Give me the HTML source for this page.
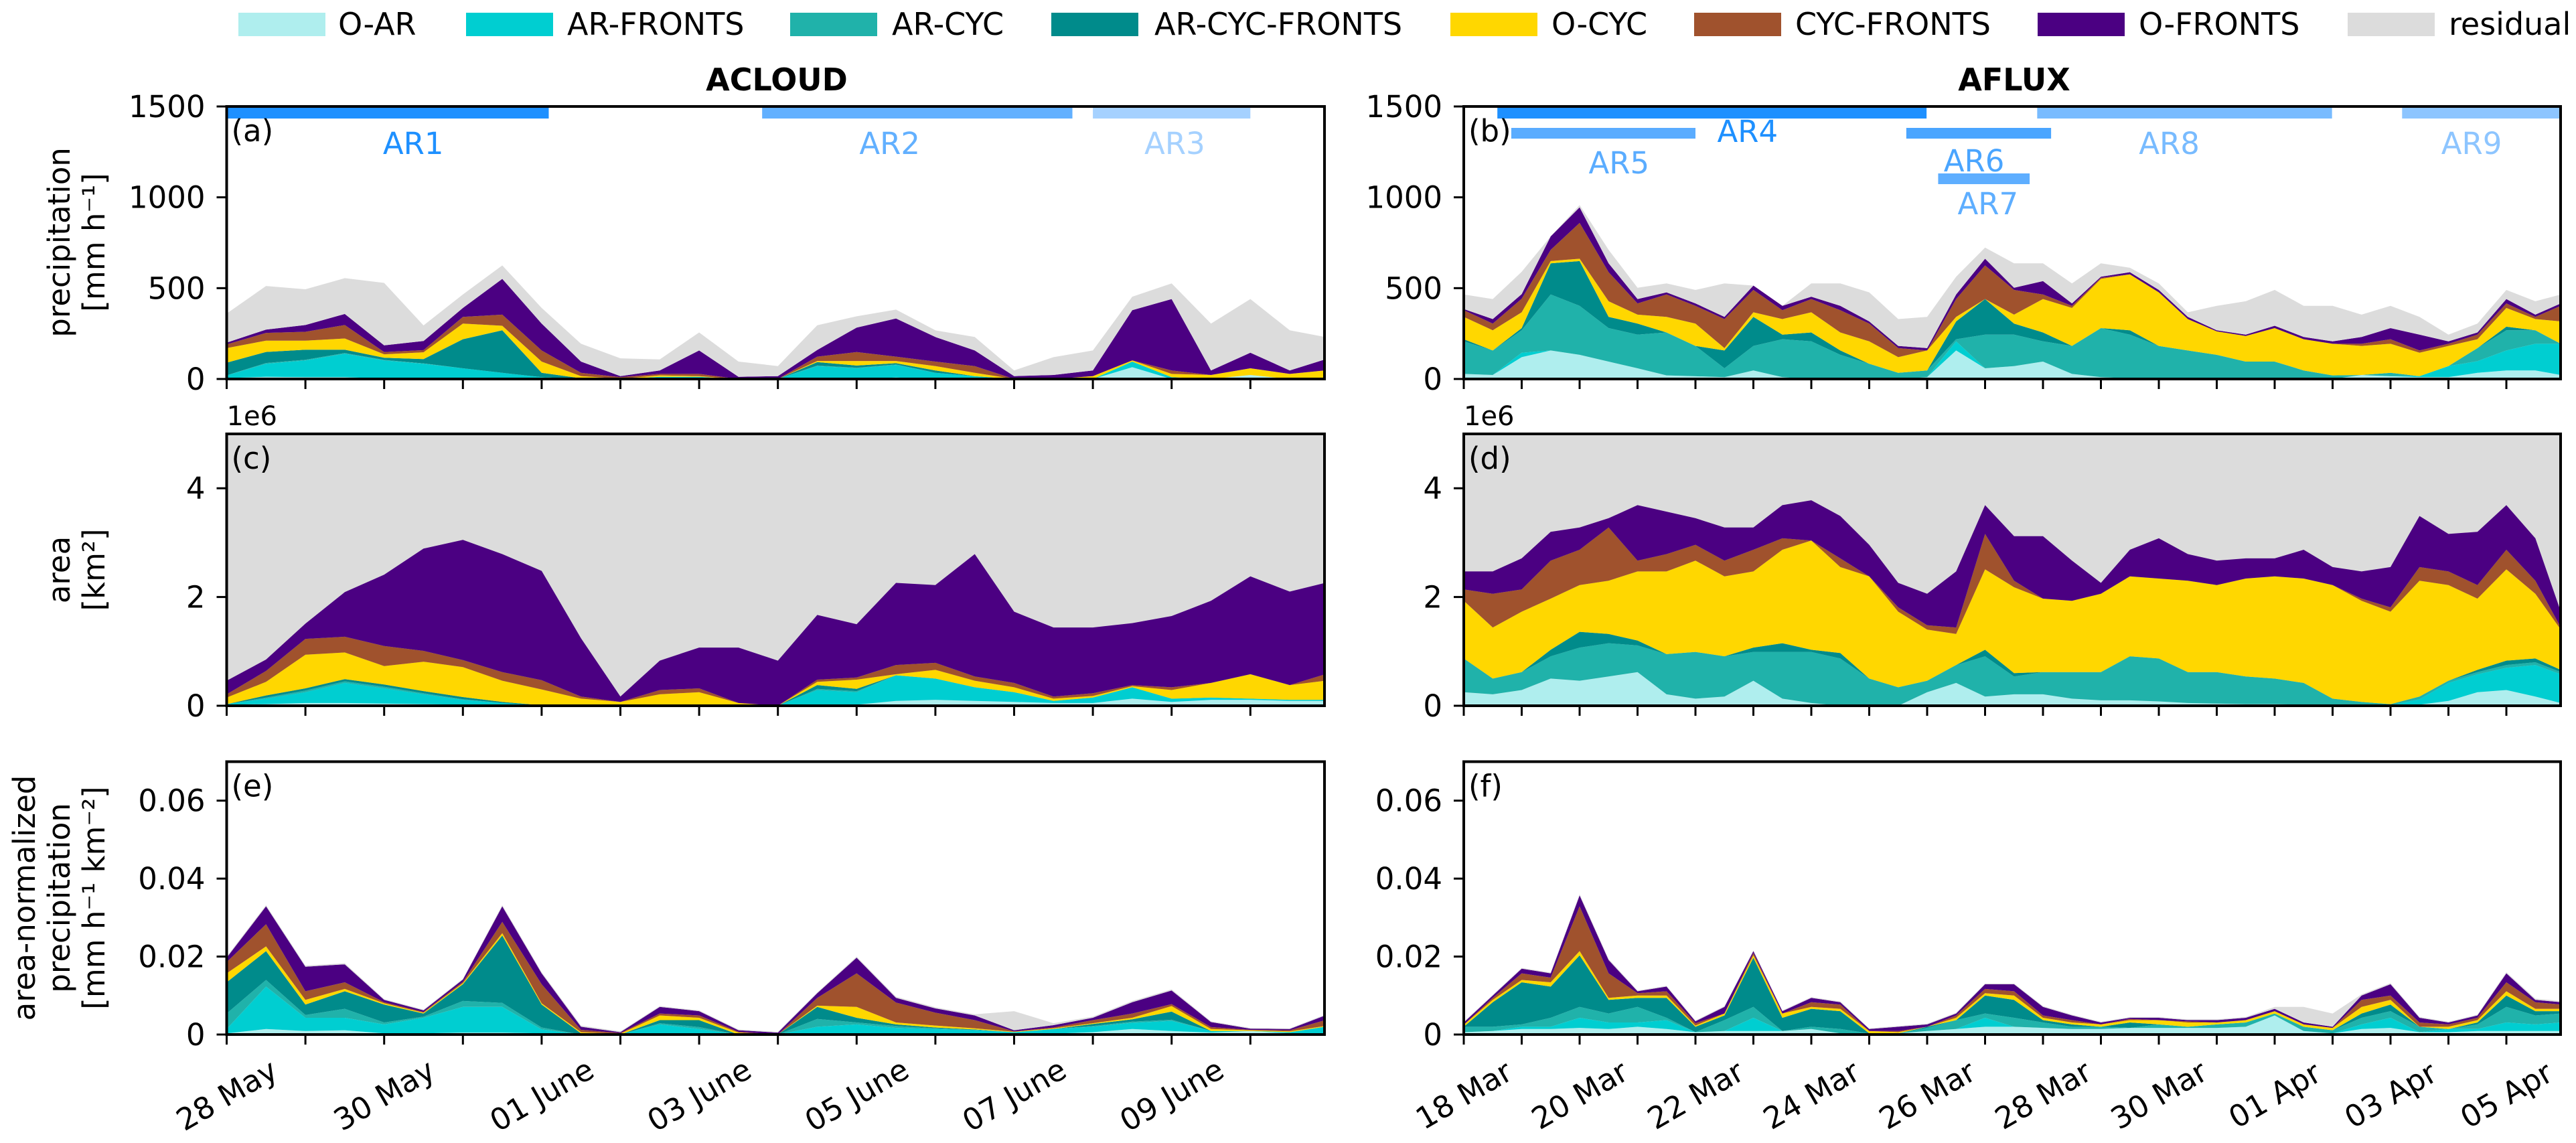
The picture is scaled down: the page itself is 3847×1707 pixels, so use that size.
<!DOCTYPE html>
<html><head><meta charset="utf-8"><style>
html,body{margin:0;padding:0;background:#fff;}
svg{display:block;font-family:"DejaVu Sans","Liberation Sans",sans-serif;}
</style></head><body>
<svg id="chart" width="3847" height="1707" viewBox="0 0 3847 1707" xmlns="http://www.w3.org/2000/svg">
<rect x="0" y="0" width="3847" height="1707" fill="#fff"/>
<g id="legend" font-size="46">
 <g><rect x="356" y="19" width="130" height="35" fill="#afeeee"/><text x="505" y="52">O-AR</text></g>
 <g><rect x="696" y="19" width="130" height="35" fill="#00ced1"/><text x="847" y="52">AR-FRONTS</text></g>
 <g><rect x="1180" y="19" width="130" height="35" fill="#20b2aa"/><text x="1332" y="52">AR-CYC</text></g>
 <g><rect x="1570" y="19" width="130" height="35" fill="#008b8b"/><text x="1724" y="52">AR-CYC-FRONTS</text></g>
 <g><rect x="2166" y="19" width="130" height="35" fill="#ffd700"/><text x="2317" y="52">O-CYC</text></g>
 <g><rect x="2530" y="19" width="130" height="35" fill="#a0522d"/><text x="2681" y="52">CYC-FRONTS</text></g>
 <g><rect x="3043" y="19" width="130" height="35" fill="#4b0082"/><text x="3194" y="52">O-FRONTS</text></g>
 <g><rect x="3506" y="19" width="130" height="35" fill="#dcdcdc"/><text x="3657" y="52">residual</text></g>
</g>
<text x="1160" y="135" font-size="46" font-weight="bold" text-anchor="middle">ACLOUD</text>
<text x="3008" y="135" font-size="46" font-weight="bold" text-anchor="middle">AFLUX</text>
<g font-size="45" text-anchor="middle">
 <text transform="translate(88,362) rotate(-90)" dy="16">precipitation</text>
 <text transform="translate(140,362) rotate(-90)" dy="16">[mm h⁻¹]</text>
 <text transform="translate(88,851) rotate(-90)" dy="16">area</text>
 <text transform="translate(140,851) rotate(-90)" dy="16">[km²]</text>
 <text transform="translate(36,1341) rotate(-90)" dy="16">area-normalized</text>
 <text transform="translate(88,1341) rotate(-90)" dy="16">precipitation</text>
 <text transform="translate(140,1341) rotate(-90)" dy="16">[mm h⁻¹ km⁻²]</text>
</g>
<g id="plots"></g>
</svg>
<script>
// ---- shared categories ----
const layerNames = ['O-AR','AR-FRONTS','AR-CYC','AR-CYC-FRONTS','O-CYC','CYC-FRONTS','O-FRONTS','residual'];
const layerColors = ['#afeeee','#00ced1','#20b2aa','#008b8b','#ffd700','#a0522d','#4b0082','#dcdcdc'];
const leftTimes = [0,0.5,1,1.5,2,2.5,3,3.5,4,4.5,5,5.5,6,6.5,7,7.5,8,8.5,9,9.5,10,10.5,11,11.5,12,12.5,13,13.5,13.95];
const rightTimes = [0,0.5,1,1.5,2,2.5,3,3.5,4,4.5,5,5.5,6,6.5,7,7.5,8,8.5,9,9.5,10,10.5,11,11.5,12,12.5,13,13.5,14,14.5,15,15.5,16,16.5,17,17.5,18,18.5,18.94];
const leftDateLabels = ['28 May','30 May','01 June','03 June','05 June','07 June','09 June'];
const leftDateDays = [0,2,4,6,8,10,12];
const rightDateLabels = ['18 Mar','20 Mar','22 Mar','24 Mar','26 Mar','28 Mar','30 Mar','01 Apr','03 Apr','05 Apr'];
const rightDateDays = [0,2,4,6,8,10,12,14,16,18];
const precipTicks = [0,500,1000,1500];
const precipTickLabels = ['0','500','1000','1500'];
const areaTicks = [0,2,4];
const areaTickLabels = ['0','2','4'];
const normTicks = [0,20,40,60];
const normTickLabels = ['0','0.02','0.04','0.06'];

// ---- panel (a) ACLOUD precipitation [mm/h] ----
const aOAR = [5,12,10,10,3,0,0,0,0,0,0,0,0,0,0,0,0,8,0,0,0,0,0,65,0,0,22,0,0];
const aARF = [15,72,92,129,99,84,59,34,10,0,0,12,12,0,0,71,59,69,34,16,0,0,0,31,10,0,0,0,0];
const aARC = [0,4,4,4,3,2,0,0,0,0,0,0,0,0,0,3,3,3,0,0,0,0,0,0,0,0,0,0,0];
const aACF = [70,61,55,18,12,24,160,234,24,4,0,0,0,0,0,19,12,7,13,0,0,0,0,0,0,0,0,0,0];
const aOC  = [80,62,50,62,19,37,86,25,62,12,2,8,4,0,0,6,25,12,24,18,0,0,16,6,18,22,37,28,47];
const aCF  = [20,43,49,74,12,12,37,61,61,18,8,8,12,0,0,24,49,24,25,37,0,0,0,0,19,0,0,0,0];
const aOF  = [10,18,37,61,37,50,49,197,148,62,6,19,129,12,16,37,135,210,135,86,16,22,31,277,393,25,86,19,61];
const aRES = [160,240,197,197,344,86,74,74,86,98,98,61,99,84,55,136,62,49,37,74,31,98,110,74,86,258,295,221,123];
// ---- panel (c) ACLOUD area [1e6 km2] ----
const cOAR = [0.02,0.03,0.05,0.05,0.04,0.03,0.02,0.01,0,0,0,0,0,0,0,0.01,0.02,0.09,0.11,0.09,0.07,0.05,0.05,0.13,0.07,0.11,0.11,0.09,0.09];
const cARF = [0.01,0.1,0.2,0.37,0.28,0.18,0.09,0.04,0.01,0,0,0,0.02,0,0,0.28,0.23,0.47,0.39,0.25,0.18,0.04,0.1,0.21,0.06,0.04,0.02,0.02,0.02];
const cARC = [0,0.02,0.03,0.03,0.03,0.02,0.01,0,0,0,0,0,0,0,0,0.02,0.02,0,0,0,0,0,0,0,0,0,0,0,0];
const cACF = [0,0.04,0.04,0.04,0.04,0.04,0.04,0.02,0,0,0,0,0,0,0,0.07,0.04,0,0,0,0,0,0,0,0,0,0,0,0];
const cOC  = [0.12,0.25,0.62,0.49,0.34,0.54,0.55,0.39,0.29,0.13,0.07,0.21,0.23,0.05,0,0.06,0.17,0.02,0.16,0.12,0.09,0.04,0.03,0.02,0.16,0.27,0.45,0.27,0.35];
const cCF  = [0.06,0.2,0.29,0.29,0.37,0.2,0.13,0.16,0.17,0.04,0,0.08,0.07,0,0,0.04,0.04,0.17,0.13,0.08,0.08,0.04,0.05,0.02,0.05,0,0,0,0.12];
const cOF  = [0.25,0.21,0.28,0.82,1.31,1.88,2.21,2.17,2.01,1.07,0.1,0.54,0.75,1.02,0.83,1.19,0.98,1.51,1.43,2.25,1.31,1.27,1.21,1.14,1.31,1.51,1.8,1.72,1.68];
// ---- panel (e) ACLOUD area-normalized [1e-3 mm/h/km2] ----
const eOAR = [0.3,1.4,0.9,1.1,0.3,0.3,0.5,0.5,0.3,0,0,0.2,0.3,0,0,0.3,0.3,0.3,0.2,0.2,0.2,0.2,0.6,1.4,0.9,0.5,0.9,0.3,0.3];
const eARF = [1.1,10.9,3.4,3.2,2.3,4,6.6,6.6,1,0,0,2.4,1.1,0,0,1.7,2.3,1.4,1.2,0.9,0.4,1.2,1.4,1.6,2.6,0.4,0,0.3,1.7];
const eARC = [4,1.7,0.7,2.3,0.5,0.3,1.5,1,0.5,0,0,0.3,0.5,0,0,2,0.5,0.5,0.2,0.1,0,0,0.2,0.3,0.3,0,0,0,0];
const eACF = [8,7.4,2.7,4.5,4.6,0.8,4.3,17.3,5.9,0.3,0,0.8,1.8,0,0,3.1,1.2,0.4,0.2,0.1,0,0,0.5,0.6,2.1,0,0,0,0];
const eOC  = [2.3,1.2,1.2,0.6,0.3,0.2,0.3,0.6,0.3,0.3,0.2,1.2,0.6,0.5,0,0.3,2.8,0.5,0.5,0.3,0.1,0.2,0.2,0.4,1.4,0.5,0.2,0.2,0.2];
const eCF  = [2.9,5.7,2.2,1.7,0.3,0.2,0.3,2.9,4.9,0.6,0.2,0.5,0.6,0.2,0,2,8.6,5.1,3.3,2.1,0.1,0.2,0.8,1.1,0.5,0.5,0.1,0.3,1.5];
const eOF  = [1.1,4.6,6.3,4.6,0.6,0.4,0.6,4,2.8,0.8,0.2,1.7,1.1,0.4,0.5,1.2,4,1.2,1.1,1.2,0.3,0.6,0.6,2.9,3.5,1.3,0.3,0.3,1.2];
const eRES = [0.3,0.3,0.3,0.3,0.2,0.2,0.2,0.3,0.3,0.3,0.2,0.2,0.2,0.2,0.2,0.2,0.3,0.3,0.3,0.3,4.9,0.5,0.3,0.3,0.3,0.2,0.2,0.2,0.2];
// ---- panel (b) AFLUX precipitation ----
const bOAR = [28,22,120,157,133,96,59,20,15,10,47,10,0,0,0,0,10,157,59,71,96,28,10,4,0,0,0,0,0,0,0,22,15,10,10,34,47,47,22];
const bARF = [0,0,25,0,0,0,0,0,0,0,0,0,0,0,0,0,0,50,0,0,0,0,0,0,0,0,0,0,0,0,0,0,0,6,61,64,110,147,172];
const bARC = [179,135,123,308,270,184,185,236,167,49,135,209,207,133,84,34,37,12,185,173,111,154,270,240,182,157,133,96,96,47,20,0,19,0,0,72,111,74,0];
const bACF = [12,0,12,172,246,62,61,0,0,98,160,25,49,24,0,0,0,98,196,61,49,0,0,24,0,0,0,0,0,0,0,0,0,0,0,0,20,0,0];
const bOC  = [123,111,87,12,13,86,49,86,123,13,25,86,111,99,123,86,110,25,0,49,184,209,271,308,295,173,129,141,184,172,174,160,160,129,111,49,103,62,123];
const bCF  = [37,37,75,62,197,160,62,123,98,160,123,49,73,123,98,50,0,98,185,136,25,12,6,0,0,0,0,0,0,0,0,12,25,12,12,25,25,12,86];
const bOF  = [6,25,25,74,86,49,24,12,13,12,24,24,13,24,12,12,13,25,37,12,74,13,6,12,13,12,6,7,13,12,13,37,61,87,13,12,24,12,13];
const bRES = [80,110,123,0,12,74,62,49,74,184,0,0,73,123,160,148,172,98,61,135,98,110,74,24,36,25,135,184,197,172,196,123,123,98,37,49,50,74,49];
// ---- panel (d) AFLUX area ----
const dOAR = [0.25,0.21,0.29,0.5,0.46,0.54,0.62,0.21,0.13,0.17,0.46,0.13,0.05,0,0,0,0.25,0.42,0.17,0.21,0.21,0.13,0.1,0.1,0.08,0.05,0.04,0.03,0.03,0.02,0.02,0.01,0.01,0.02,0.09,0.25,0.29,0.17,0.05];
const dARF = [0,0,0,0,0,0,0,0,0,0,0,0,0,0,0,0,0,0,0,0,0,0,0,0,0,0,0,0,0,0,0,0,0,0.1,0.33,0.33,0.41,0.58,0.53];
const dARC = [0.62,0.29,0.33,0.41,0.61,0.61,0.49,0.74,0.86,0.74,0.53,0.86,0.94,0.87,0.5,0.34,0.21,0.33,0.74,0.33,0.41,0.49,0.52,0.81,0.79,0.57,0.58,0.51,0.47,0.4,0.11,0.06,0.02,0.05,0.04,0.04,0.05,0.05,0.04];
const dACF = [0,0,0,0.12,0.29,0.17,0.09,0,0,0,0.08,0.16,0.04,0.1,0,0,0,0,0.12,0.06,0,0,0,0,0,0,0,0,0,0,0,0,0,0,0,0.04,0.08,0.07,0.04];
const dOC  = [1.06,0.94,1.11,0.94,0.86,0.98,1.27,1.52,1.68,1.47,1.4,1.72,2.01,1.58,1.88,1.39,0.94,0.57,1.48,1.58,1.35,1.31,1.44,1.47,1.47,1.68,1.6,1.8,1.88,1.92,2.09,1.86,1.7,2.13,1.76,1.31,1.68,1.19,0.74];
const dCF  = [0.21,0.62,0.41,0.7,0.65,0.98,0.2,0.32,0.29,0.29,0.4,0.21,0,0.16,0,0.08,0.08,0.12,0.65,0.12,0,0,0,0,0,0,0,0,0,0,0,0.04,0.08,0.25,0.25,0.25,0.36,0.24,0.04];
const dOF  = [0.33,0.41,0.57,0.53,0.41,0.17,1.02,0.78,0.49,0.61,0.41,0.61,0.74,0.78,0.58,0.45,0.58,1.03,0.53,0.82,1.15,0.74,0.2,0.49,0.74,0.49,0.45,0.37,0.33,0.53,0.33,0.5,0.74,0.94,0.69,0.98,0.82,0.78,0.29];
// ---- panel (f) AFLUX area-normalized [1e-3] ----
const fOAR = [0.6,0.9,1.4,1.4,1.7,1.4,2,1.4,0.6,0.9,0.9,0.9,1.4,0.3,0.3,0.3,0.9,1.4,2,2,1.7,1.4,1.4,1.7,1.7,1.7,1.7,2,4.9,0.9,0.3,1.4,1.7,0.6,0.6,0.9,0.9,0.9,0.9];
const fARF = [0,0,0.6,0.6,2.6,1.7,1.1,2.3,0,0,3.4,0,0,0,0,0,0,0,2.3,0,0,0,0,0,0,0,0,0,0,0,0,1.2,2.6,0,0.8,0.5,2.2,1.7,2.2];
const fARC = [1.4,1.1,0.6,2.3,2.8,2.3,4,0.6,0,2.8,2.8,0,0.6,1.1,0,0,0.8,2.3,1.1,2.3,1.4,0.6,0.6,0,0.9,0.3,0.9,1.1,0.5,1.1,0.8,1.7,1.7,1.4,0,1.2,4,2.3,2.3];
const fACF = [0,6.3,10.8,8,13.2,3.5,2.3,5.1,1.4,1.2,12.6,3.4,4.6,4.6,0,0,0.3,0,4.6,4.6,0.6,0.6,0,1.4,0,0,0,0,0,0,0,1.1,1.7,0,0,0.5,2.9,1.1,0.6];
const fOC  = [0.5,0.6,0.6,1.1,1.1,0.5,0.6,0.6,0.3,0.5,0.6,1.1,0.5,0.6,0.6,0.3,0,0.6,0.6,1.1,0.6,0.5,0.6,0.6,1.1,1.1,0.5,0.6,0.6,0.6,0.6,1.7,1.2,0,0.6,0.6,1.1,0.6,0.6];
const fCF  = [0,0.5,1.7,1.2,11.5,6.3,0.6,1.1,0.6,0,0.6,0,1.2,1.1,0,0.3,0,0.6,1.1,1.1,0.6,0.6,0,0.3,0,0.3,0,0,0,0,0,1.8,1.1,1.1,0.6,0.6,2.3,1.7,1.1];
const fOF  = [0.6,0.6,1.2,1.1,2.8,3.4,0.5,1.2,0.5,1.7,0.5,0.6,1.1,0.6,0.5,1.1,0.6,0.5,1.2,1.8,2.2,1.2,0.5,0.3,0.6,0.3,0.6,0.6,0.6,0.5,0.3,1.1,2.9,1.2,0.5,0.6,2.3,0.6,0.6];
const fRES = [0.2,0.2,0.2,0.2,0.3,0.3,0.2,0.2,0.2,0.2,0.2,0.2,0.2,0.2,0.2,0.2,0.2,0.2,0.2,0.2,0.2,0.2,0.2,0.2,0.2,0.2,0.2,0.2,0.5,4,3.4,0.3,0.3,0.2,0.2,0.2,0.3,0.3,0.3];
// ---- AR event bars (days since start) ----
const arNames = ['AR1','AR2','AR3','AR4','AR5','AR6','AR7','AR8','AR9'];
const arCol   = ['L','L','L','R','R','R','R','R','R'];
const arStart = [0,6.8,11.0,0.58,0.82,7.64,8.19,9.9,16.2];
const arEnd   = [4.09,10.74,13.0,7.99,4.0,10.14,9.77,14.99,18.94];
const arRow   = [0,0,0,0,1,1,2,0,0];
const arLabelDay = [2.37,8.42,12.04,4.9,2.68,8.81,9.05,12.18,17.4];

const NS = 'http://www.w3.org/2000/svg';
const plots = document.getElementById('plots');
function mk(tag, attrs, parent){
  const el = document.createElementNS(NS, tag);
  for (const k in attrs) el.setAttribute(k, attrs[k]);
  (parent||plots).appendChild(el);
  return el;
}
const cols = {
  L:{x0:338.5, x1:1978, pxDay:117.6, times:leftTimes, dlab:leftDateLabels, dday:leftDateDays, nTicks:14},
  R:{x0:2186, x1:3824, pxDay:86.5, times:rightTimes, dlab:rightDateLabels, dday:rightDateDays, nTicks:19}
};
const rows = [
  {top:159, bot:566, max:1500, ticks:precipTicks, tl:precipTickLabels},
  {top:648, bot:1054, max:5, ticks:areaTicks, tl:areaTickLabels},
  {top:1137.5, bot:1545, max:70, ticks:normTicks, tl:normTickLabels}
];
const panels = [
  {id:'a', col:'L', row:0, layers:[aOAR,aARF,aARC,aACF,aOC,aCF,aOF,aRES]},
  {id:'b', col:'R', row:0, layers:[bOAR,bARF,bARC,bACF,bOC,bCF,bOF,bRES]},
  {id:'c', col:'L', row:1, layers:[cOAR,cARF,cARC,cACF,cOC,cCF,cOF], fullResidual:true},
  {id:'d', col:'R', row:1, layers:[dOAR,dARF,dARC,dACF,dOC,dCF,dOF], fullResidual:true},
  {id:'e', col:'L', row:2, layers:[eOAR,eARF,eARC,eACF,eOC,eCF,eOF,eRES]},
  {id:'f', col:'R', row:2, layers:[fOAR,fARF,fARC,fACF,fOC,fCF,fOF,fRES]}
];

panels.forEach(p => {
  const C = cols[p.col], R = rows[p.row];
  const xs = t => C.x0 + t * C.pxDay;
  const ys = v => R.bot - (v / R.max) * (R.bot - R.top);
  const g = mk('g', {});
  
  
  const cp = mk('clipPath', {id:'clip-' + p.id}, g);
  mk('rect', {x:C.x0, y:R.top, width:C.x1 - C.x0, height:R.bot - R.top}, cp);
  const plotG = mk('g', {'clip-path':'url(#clip-' + p.id + ')'}, g);
  if (p.fullResidual) {
    const bg = mk('rect', {x:C.x0, y:R.top, width:C.x1 - C.x0, height:R.bot - R.top, fill:layerColors[7]}, plotG);
    
    
  }
  const n = C.times.length;
  const cum = new Array(n).fill(0);
  p.layers.forEach((vals, k) => {
    const upper = [], lower = [];
    for (let i = 0; i < n; i++) {
      lower.push(xs(C.times[i]).toFixed(1) + ',' + ys(cum[i]).toFixed(1));
      cum[i] += vals[i];
      upper.push(xs(C.times[i]).toFixed(1) + ',' + ys(cum[i]).toFixed(1));
    }
    const poly = mk('polygon', {points: upper.concat(lower.reverse()).join(' '), fill: layerColors[k]}, plotG);
    
    
  });
  // AR bars
  if (p.row === 0) {
    const rowY = [161, 191, 259];
    const labY = {AR1:214,AR2:214,AR3:214,AR4:196,AR5:243,AR6:240,AR7:304,AR8:214,AR9:214};
    const arColors = {AR1:'#1e90ff',AR2:'#62b0ff',AR3:'#a5d1ff',AR4:'#1e90ff',AR5:'#5aacff',AR6:'#4aa5ff',AR7:'#5eaeff',AR8:'#78bbff',AR9:'#8dc5ff'};
    arNames.forEach((nm, i) => {
      if (arCol[i] !== p.col) return;
      const bar = mk('rect', {x:xs(arStart[i]), y:rowY[arRow[i]], width:xs(arEnd[i]) - xs(arStart[i]), height:16, fill:arColors[nm]}, g);
      
      
      const lt = mk('text', {x:xs(arLabelDay[i]), y:labY[nm] + 16, 'font-size':45, 'text-anchor':'middle', fill:arColors[nm]}, g);
      lt.textContent = nm;
      
      
    });
  }
  // frame
  const fr = mk('rect', {x:C.x0, y:R.top, width:C.x1 - C.x0, height:R.bot - R.top, fill:'none', stroke:'#000', 'stroke-width':4}, g);
  
  
  // x ticks
  for (let d = 0; d < C.nTicks; d++) {
    const tk = mk('line', {x1:xs(d), x2:xs(d), y1:R.bot, y2:R.bot + 15, stroke:'#000', 'stroke-width':3}, g);
    
    
  }
  if (p.row === 2) {
    C.dlab.forEach((lab, i) => {
      const x = xs(C.dday[i]);
      const t = mk('text', {x:x, y:1651, 'font-size':45, 'text-anchor':'middle', transform:'rotate(-30 ' + x + ' 1635)'}, g);
      t.textContent = lab;
      
      
    });
  }
  // y ticks
  R.ticks.forEach((v, i) => {
    const y = ys(v);
    const tk = mk('line', {x1:C.x0 - 15, x2:C.x0, y1:y, y2:y, stroke:'#000', 'stroke-width':3}, g);
    
    
    const t = mk('text', {x:C.x0 - 32, y:y + 16, 'font-size':45, 'text-anchor':'end'}, g);
    t.textContent = R.tl[i];
    
    
  });
  if (p.row === 1) {
    const o = mk('text', {x:C.x0, y:R.top - 13, 'font-size':40}, g);
    o.textContent = '1e6';
    
    
  }
  const pl = mk('text', {x:C.x0 + 7, y:R.top + 52, 'font-size':45}, g);
  pl.textContent = '(' + p.id + ')';
  
  
});
</script>
</body></html>
